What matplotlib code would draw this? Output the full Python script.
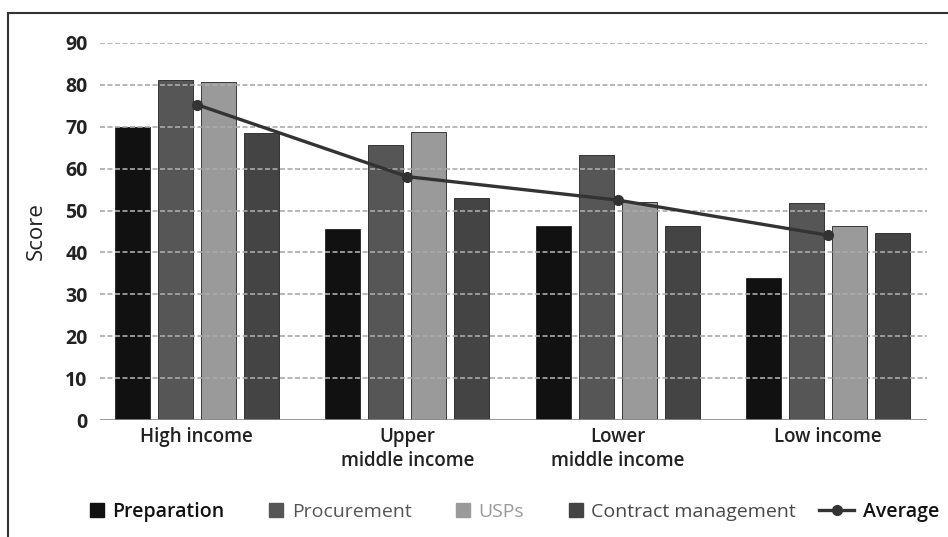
import matplotlib.pyplot as plt
import numpy as np
from matplotlib.patches import Rectangle
from matplotlib.lines import Line2D
from matplotlib.legend_handler import HandlerLine2D

# data
groups = ["High income", "Upper\nmiddle income", "Lower\nmiddle income", "Low income"]
series = ["Preparation", "Procurement", "USPs", "Contract management"]
preparation = [70.0, 45.5, 46.3, 33.8]
procurement = [81.1, 65.6, 63.3, 51.7]
usps = [80.7, 68.7, 52.1, 46.3]
contract = [68.4, 53.1, 46.3, 44.6]
average = [75.3, 58.1, 52.5, 44.1]
yticks = [0, 10, 20, 30, 40, 50, 60, 70, 80, 90]

colors = ["#111111", "#565656", "#9a9a9a", "#444444"]
text_colors = ["#111111", "#555555", "#9a9a9a", "#484848"]
line_color = "#333333"

plt.rcParams['font.family'] = ['Open Sans', 'DejaVu Sans']


class LongLine(HandlerLine2D):
    # longer line handle for the Average entry, stretched to the left
    def create_artists(self, legend, orig_handle, xdescent, ydescent,
                       width, height, fontsize, trans):
        return super().create_artists(legend, orig_handle, xdescent + 1.6 * width,
                                      ydescent, width * 2.6, height, fontsize, trans)


fig = plt.figure(figsize=(9.48, 5.37), dpi=100)
ax = fig.add_axes([100 / 948, 1 - 420 / 537, 827 / 948, 377 / 537])

x = np.arange(len(groups))
width = 0.166
step = 0.204
values = [preparation, procurement, usps, contract]
for i, vals in enumerate(values):
    ax.bar(x + (i - 1.5) * step, vals, width, color=colors[i],
           edgecolor="#222222", linewidth=0.6, zorder=2)

ax.plot(x, average, color=line_color, lw=2.4, marker="o", ms=7, zorder=4)

ax.set_ylim(0, 90)
ax.set_xlim(-0.46, 3.47)
ax.set_yticks(yticks)
ax.set_xticks(x)
ax.set_xticklabels(groups, fontsize=13.5, fontweight="semibold", color="#222222", linespacing=1.3)
ax.tick_params(axis="y", length=0, pad=9, labelsize=14, labelcolor="#222222")
ax.tick_params(axis="x", length=0, pad=5)
for lab in ax.get_yticklabels():
    lab.set_fontweight("bold")

# dashed grid drawn over the bars
for v in yticks[1:]:
    ax.axhline(v, color="#aaaaaa", lw=1.2, ls=(0, (3, 1.5)), zorder=3)
ax.axhline(0, color="#888888", lw=1.2, zorder=3)

for s in ax.spines.values():
    s.set_visible(False)

ax.set_ylabel("Score", fontsize=16, color="#222222")
ax.yaxis.set_label_coords(-0.064, 0.5)

# outer frame, cropped on the right and bottom
fig.patches.append(Rectangle((8 / 948, -0.1), 1.2, 1 - 13 / 537 + 0.1,
                             transform=fig.transFigure, fill=False,
                             edgecolor="#333333", lw=1.5))

handles = [Rectangle((0, 0), 1, 1, color=c) for c in colors]
avg_handle = Line2D([0], [0], color=line_color, lw=2.4, marker="o", ms=7)
handles.append(avg_handle)
leg = fig.legend(handles, series + ["Average"], loc="center", ncol=5,
                 bbox_to_anchor=(0.543, 1 - 512 / 537), frameon=False,
                 fontsize=14, handlelength=0.7, handleheight=0.7,
                 handletextpad=0.45, columnspacing=2.3,
                 handler_map={avg_handle: LongLine()})
for t, c in zip(leg.get_texts(), text_colors + ["#111111"]):
    t.set_color(c)
leg.get_texts()[0].set_fontweight("semibold")
leg.get_texts()[4].set_fontweight("semibold")

fig.savefig("out.png", dpi=100)
